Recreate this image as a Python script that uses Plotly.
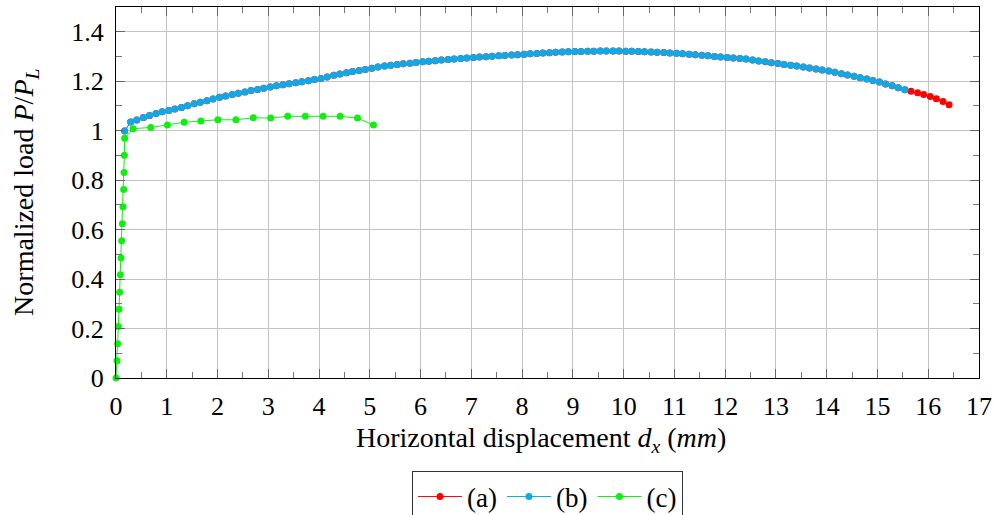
import plotly.graph_objects as go

# ---------------- data ----------------
# series (b): blue
b_x = [0.17,
       0.29, 0.41, 0.54, 0.66, 0.79, 0.91,
       1.04, 1.16, 1.29, 1.41, 1.54, 1.66, 1.79, 1.91,
       2.04, 2.16, 2.29, 2.41, 2.54, 2.66, 2.79, 2.91,
       3.04, 3.16, 3.29, 3.41, 3.54, 3.66, 3.79, 3.91,
       4.04, 4.16, 4.29, 4.41, 4.54, 4.66, 4.79, 4.91,
       5.04, 5.16, 5.29, 5.41, 5.54, 5.66, 5.79, 5.91,
       6.04, 6.16, 6.29, 6.41, 6.54, 6.66, 6.79, 6.91,
       7.04, 7.16, 7.29, 7.41, 7.54, 7.66, 7.79, 7.91,
       8.04, 8.16, 8.29, 8.41, 8.54, 8.66, 8.79, 8.91,
       9.04, 9.16, 9.29, 9.41, 9.54, 9.66, 9.79, 9.91,
       10.04, 10.16, 10.29, 10.41, 10.54, 10.66, 10.79, 10.91,
       11.04, 11.16, 11.29, 11.41, 11.54, 11.66, 11.79, 11.91,
       12.04, 12.16, 12.29, 12.41, 12.54, 12.66, 12.79, 12.91,
       13.04, 13.16, 13.29, 13.41, 13.54, 13.66, 13.79, 13.91,
       14.04, 14.16, 14.29, 14.41, 14.54, 14.66, 14.79, 14.91,
       15.04, 15.16, 15.29, 15.41, 15.54]
b_y = [0.999,
       1.035, 1.043, 1.053, 1.061, 1.069, 1.076,
       1.082, 1.088, 1.094, 1.101, 1.109, 1.115, 1.121, 1.128,
       1.135, 1.140, 1.146, 1.151, 1.156, 1.162, 1.166, 1.171,
       1.177, 1.182, 1.186, 1.190, 1.194, 1.198, 1.202, 1.207,
       1.211, 1.217, 1.224, 1.229, 1.234, 1.239, 1.243, 1.247,
       1.252, 1.257, 1.261, 1.264, 1.268, 1.271, 1.273, 1.276,
       1.279, 1.281, 1.283, 1.286, 1.288, 1.290, 1.292, 1.294,
       1.296, 1.298, 1.299, 1.301, 1.303, 1.304, 1.306, 1.307,
       1.309, 1.311, 1.312, 1.314, 1.315, 1.317, 1.318, 1.319,
       1.320, 1.3205, 1.321, 1.3215, 1.322, 1.322, 1.322, 1.322,
       1.3215, 1.321, 1.320, 1.3195, 1.3185, 1.3175, 1.316, 1.3145,
       1.313, 1.311, 1.309, 1.307, 1.305, 1.3025, 1.300, 1.2975,
       1.2955, 1.2935, 1.292, 1.290, 1.286, 1.282, 1.279, 1.275,
       1.272, 1.268, 1.264, 1.261, 1.257, 1.253, 1.249, 1.245,
       1.241, 1.236, 1.230, 1.225, 1.220, 1.214, 1.209, 1.203,
       1.197, 1.189, 1.182, 1.174, 1.165]

# series (a): red -- coincides with (b), then continues further
a_x_tail = [15.66, 15.79, 15.91, 16.04, 16.16, 16.29, 16.41]
a_y_tail = [1.159, 1.153, 1.146, 1.138, 1.129, 1.118, 1.105]
a_x = b_x + a_x_tail
a_y = b_y + a_y_tail

# series (c): green
c_x = [0.0, 0.02, 0.033, 0.046, 0.059, 0.072, 0.086, 0.099, 0.112, 0.125,
       0.138, 0.151, 0.158, 0.164, 0.171,
       0.336, 0.684, 1.013, 1.342, 1.671, 2.007, 2.362, 2.704, 3.046, 3.382,
       3.730, 4.079, 4.414, 4.757, 5.072]
c_y = [0.0, 0.070, 0.138, 0.208, 0.278, 0.347, 0.417, 0.485, 0.555, 0.624,
       0.692, 0.762, 0.831, 0.901, 0.969,
       1.008, 1.013, 1.023, 1.034, 1.039, 1.044, 1.044, 1.052, 1.051, 1.058,
       1.058, 1.058, 1.058, 1.051, 1.023]

series_names = ["(a)", "(b)", "(c)"]
x_title = "Horizontal displacement <i>d</i><sub><i>x</i></sub> (<i>mm</i>)"
y_title = "Normalized load <i>P</i>/<i>P</i><sub><i>L</i></sub>"

# ---------------- figure ----------------
RED = "#ff0000"
BLUE = "#12a8e6"
GREEN = "#10f010"

fig = go.Figure()
for name, xs, ys, col in [(series_names[0], a_x, a_y, RED),
                          (series_names[1], b_x, b_y, BLUE),
                          (series_names[2], c_x, c_y, GREEN)]:
    fig.add_trace(go.Scatter(
        x=xs, y=ys, name=name, mode="lines+markers",
        line=dict(color=col, width=1),
        marker=dict(color=col, size=7, line=dict(width=0)),
        cliponaxis=False,
    ))

FONT = "Liberation Serif, serif"
axis_common = dict(
    showgrid=True, gridcolor="#c4c4c4", gridwidth=1,
    showline=True, linecolor="black", linewidth=1.2, mirror="allticks",
    ticks="inside", ticklen=9, tickwidth=1, tickcolor="#666",
    zeroline=False, automargin=False,
    tickfont=dict(family=FONT, size=26, color="black"),
)
fig.update_xaxes(range=[0, 17], tick0=0, dtick=1,
                 minor=dict(dtick=0.5, ticks="inside", ticklen=6, tickcolor="#777", showgrid=False),
                 ticklabelstandoff=5, **axis_common)
fig.update_yaxes(range=[0, 1.5], tick0=0, dtick=0.2,
                 minor=dict(dtick=0.1, ticks="inside", ticklen=6, tickcolor="#777", showgrid=False),
                 ticklabelstandoff=6, **axis_common)

fig.add_annotation(text=x_title, xref="paper", yref="paper", x=0.493, y=-0.166,
                   xanchor="center", yanchor="middle", showarrow=False,
                   font=dict(family=FONT, size=28, color="black"))
fig.add_annotation(text=y_title, xref="paper", yref="paper", x=-0.105, y=0.5,
                   xanchor="center", yanchor="middle", showarrow=False, textangle=-90,
                   font=dict(family=FONT, size=28, color="black"))

fig.update_layout(
    width=995, height=515,
    margin=dict(l=116, r=16, t=7, b=137, autoexpand=False),
    paper_bgcolor="white", plot_bgcolor="white",
    font=dict(family=FONT, size=26, color="black"),
    showlegend=True,
    legend=dict(orientation="h", x=0.5, xanchor="center", y=-0.252, yanchor="top",
                bordercolor="#333", borderwidth=1, bgcolor="white",
                font=dict(family=FONT, size=27, color="black"),
                itemwidth=44, tracegroupgap=0),
)

fig.write_html("out.html", config={"displayModeBar": False},
               post_script="document.body.style.margin='0';")
